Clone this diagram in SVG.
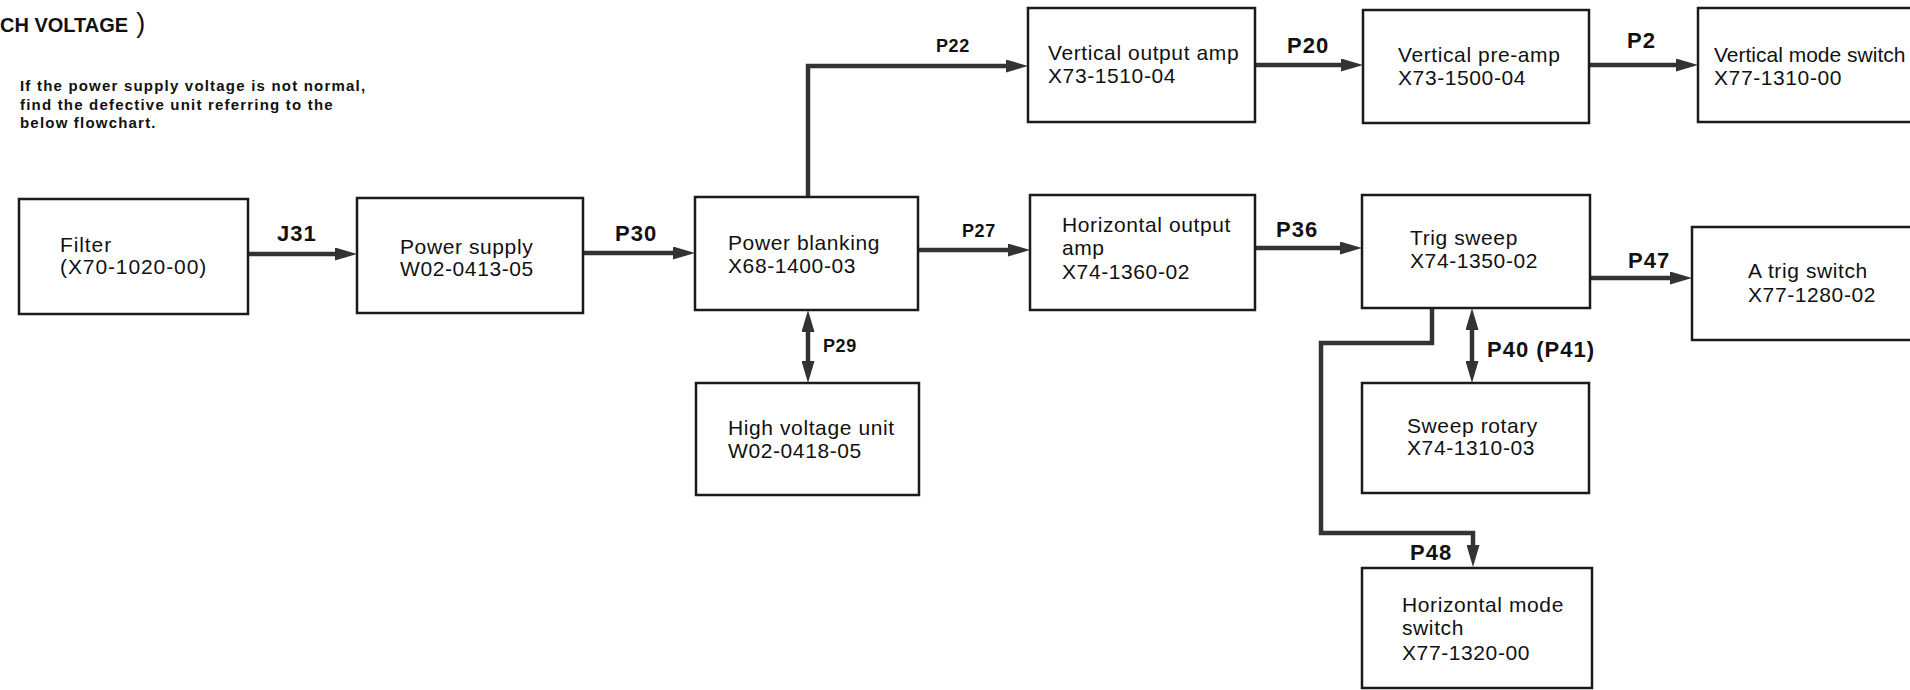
<svg xmlns="http://www.w3.org/2000/svg" width="1910" height="690" viewBox="0 0 1910 690">
<style>
.bg{fill:#ffffff}
.box{fill:#ffffff;stroke:#1a1a1a;stroke-width:2.5}
.t{font-family:"Liberation Sans",Arial,sans-serif;font-size:21px;letter-spacing:0.6px;fill:#111}
.lb{font-family:"Liberation Sans",Arial,sans-serif;font-size:22px;font-weight:bold;letter-spacing:1px;fill:#111}
.ls{font-family:"Liberation Sans",Arial,sans-serif;font-size:18px;font-weight:bold;letter-spacing:0.6px;fill:#111}
.note{font-family:"Liberation Sans",Arial,sans-serif;font-size:15px;font-weight:bold;letter-spacing:1.2px;fill:#111}
.title{font-family:"Liberation Sans",Arial,sans-serif;font-size:20px;font-weight:bold;fill:#111}
.c{fill:none;stroke:#333;stroke-width:4.5;stroke-linejoin:miter}
</style>
<defs>
<marker id="ah" markerUnits="userSpaceOnUse" markerWidth="22" markerHeight="13" refX="4" refY="6.5" orient="auto-start-reverse">
<path d="M0,0 L22,6.5 L0,13 z" fill="#333"/>
</marker>
</defs>
<rect class="bg" x="0" y="0" width="1910" height="690"/>
<g id="header">
<text class="title" x="0" y="32">CH VOLTAGE<tspan dx="8" font-size="27" font-weight="normal">)</tspan></text>
<text class="note" x="20" y="91">If the power supply voltage is not normal,</text>
<text class="note" x="20" y="109.5">find the defective unit referring to the</text>
<text class="note" x="20" y="128">below flowchart.</text>
</g>
<g id="connectors">
<path class="c" d="M248,254 H339" marker-end="url(#ah)"/>
<path class="c" d="M583,253 H677" marker-end="url(#ah)"/>
<path class="c" d="M808,197 V66 H1010" marker-end="url(#ah)"/>
<path class="c" d="M918,250 H1012" marker-end="url(#ah)"/>
<path class="c" d="M808,328 V365" marker-start="url(#ah)" marker-end="url(#ah)"/>
<path class="c" d="M1255,65 H1345" marker-end="url(#ah)"/>
<path class="c" d="M1255,248 H1344" marker-end="url(#ah)"/>
<path class="c" d="M1589,65 H1680" marker-end="url(#ah)"/>
<path class="c" d="M1590,278 H1674" marker-end="url(#ah)"/>
<path class="c" d="M1472,326 V365" marker-start="url(#ah)" marker-end="url(#ah)"/>
<path class="c" d="M1432,308 V343 H1321 V533 H1473 V549" marker-end="url(#ah)"/>
<text class="lb" x="277" y="241">J31</text>
<text class="lb" x="615" y="241">P30</text>
<text class="ls" x="936" y="52">P22</text>
<text class="ls" x="962" y="237">P27</text>
<text class="ls" x="823" y="352">P29</text>
<text class="lb" x="1287" y="53">P20</text>
<text class="lb" x="1276" y="237">P36</text>
<text class="lb" x="1627" y="48">P2</text>
<text class="lb" x="1628" y="268">P47</text>
<text class="lb" x="1487" y="357">P40 (P41)</text>
<text class="lb" x="1410" y="560">P48</text>
</g>
<g id="filter">
<rect class="box" x="19" y="199" width="229" height="115"/>
<text class="t" x="60" y="252" style="letter-spacing:0.9px">Filter</text>
<text class="t" x="60" y="274" style="letter-spacing:0.9px">(X70-1020-00)</text>
</g>
<g id="power-supply">
<rect class="box" x="357" y="198" width="226" height="115"/>
<text class="t" x="400" y="254">Power supply</text>
<text class="t" x="400" y="276">W02-0413-05</text>
</g>
<g id="power-blanking">
<rect class="box" x="695" y="197" width="223" height="113"/>
<text class="t" x="728" y="250">Power blanking</text>
<text class="t" x="728" y="273">X68-1400-03</text>
</g>
<g id="high-voltage">
<rect class="box" x="696" y="383" width="223" height="112"/>
<text class="t" x="728" y="435">High voltage unit</text>
<text class="t" x="728" y="458">W02-0418-05</text>
</g>
<g id="vertical-output-amp">
<rect class="box" x="1028" y="8" width="227" height="114"/>
<text class="t" x="1048" y="60">Vertical output amp</text>
<text class="t" x="1048" y="83">X73-1510-04</text>
</g>
<g id="horizontal-output-amp">
<rect class="box" x="1030" y="195" width="225" height="115"/>
<text class="t" x="1062" y="232">Horizontal output</text>
<text class="t" x="1062" y="255">amp</text>
<text class="t" x="1062" y="279">X74-1360-02</text>
</g>
<g id="vertical-pre-amp">
<rect class="box" x="1363" y="10" width="226" height="113"/>
<text class="t" x="1398" y="62">Vertical pre-amp</text>
<text class="t" x="1398" y="85">X73-1500-04</text>
</g>
<g id="trig-sweep">
<rect class="box" x="1362" y="195" width="228" height="113"/>
<text class="t" x="1410" y="245">Trig sweep</text>
<text class="t" x="1410" y="268">X74-1350-02</text>
</g>
<g id="vertical-mode-switch">
<rect class="box" x="1698" y="8" width="225" height="114"/>
<text class="t" x="1714" y="62" style="letter-spacing:0px">Vertical mode switch</text>
<text class="t" x="1714" y="85">X77-1310-00</text>
</g>
<g id="a-trig-switch">
<rect class="box" x="1692" y="227" width="230" height="113"/>
<text class="t" x="1748" y="278">A trig switch</text>
<text class="t" x="1748" y="302">X77-1280-02</text>
</g>
<g id="sweep-rotary">
<rect class="box" x="1362" y="383" width="227" height="110"/>
<text class="t" x="1407" y="433">Sweep rotary</text>
<text class="t" x="1407" y="455">X74-1310-03</text>
</g>
<g id="horizontal-mode-switch">
<rect class="box" x="1362" y="568" width="230" height="120"/>
<text class="t" x="1402" y="612">Horizontal mode</text>
<text class="t" x="1402" y="635">switch</text>
<text class="t" x="1402" y="660">X77-1320-00</text>
</g>
</svg>
